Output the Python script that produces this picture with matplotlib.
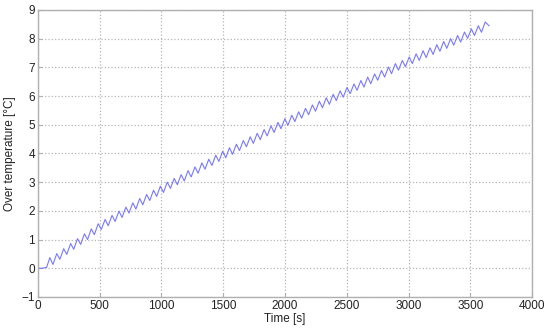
import matplotlib
matplotlib.use("Agg")
import matplotlib.pyplot as plt

plt.rcParams["font.family"] = ["Liberation Sans", "DejaVu Sans"]

# Heating test: start-up, then alternating peak / trough readings of the over temperature
start_time = [0, 40, 72]
start_temp = [0.0, 0.0, 0.03]

peak_time = [98, 154, 210, 266, 322, 378, 433, 489, 545, 601,
             657, 713, 769, 825, 881, 937, 992, 1048, 1104, 1160,
             1216, 1272, 1328, 1384, 1440, 1496, 1551, 1607, 1663, 1719,
             1775, 1831, 1887, 1943, 1999, 2055, 2110, 2166, 2222, 2278,
             2334, 2390, 2446, 2502, 2558, 2614, 2669, 2725, 2781, 2837,
             2893, 2949, 3005, 3061, 3117, 3173, 3228, 3284, 3340, 3396,
             3452, 3508, 3564, 3620]
peak_temp = [0.37, 0.51, 0.68, 0.86, 1.03, 1.20, 1.37, 1.55, 1.70, 1.84,
             1.99, 2.13, 2.28, 2.43, 2.57, 2.72, 2.86, 3.00, 3.13, 3.26,
             3.40, 3.53, 3.67, 3.80, 3.94, 4.07, 4.20, 4.32, 4.45, 4.58,
             4.70, 4.83, 4.96, 5.08, 5.21, 5.33, 5.45, 5.57, 5.69, 5.82,
             5.94, 6.06, 6.18, 6.30, 6.42, 6.54, 6.66, 6.77, 6.89, 7.01,
             7.13, 7.24, 7.36, 7.47, 7.58, 7.68, 7.79, 7.90, 8.00, 8.11,
             8.23, 8.34, 8.45, 8.58]

trough_time = [123, 179, 235, 291, 347, 403, 458, 514, 570, 626,
               682, 738, 794, 850, 906, 962, 1017, 1073, 1129, 1185,
               1241, 1297, 1353, 1409, 1465, 1521, 1576, 1632, 1688, 1744,
               1800, 1856, 1912, 1968, 2024, 2080, 2135, 2191, 2247, 2303,
               2359, 2415, 2471, 2527, 2583, 2639, 2694, 2750, 2806, 2862,
               2918, 2974, 3030, 3086, 3142, 3198, 3253, 3309, 3365, 3421,
               3477, 3533, 3589, 3650]
trough_temp = [0.13, 0.31, 0.48, 0.66, 0.83, 1.00, 1.17, 1.35, 1.48, 1.63,
               1.77, 1.92, 2.06, 2.21, 2.36, 2.50, 2.64, 2.78, 2.91, 3.04,
               3.18, 3.31, 3.45, 3.58, 3.72, 3.85, 3.97, 4.10, 4.23, 4.35,
               4.48, 4.61, 4.73, 4.86, 4.98, 5.11, 5.23, 5.35, 5.47, 5.59,
               5.71, 5.84, 5.96, 6.08, 6.20, 6.31, 6.43, 6.55, 6.66, 6.78,
               6.90, 7.02, 7.13, 7.24, 7.34, 7.45, 7.56, 7.66, 7.77, 7.88,
               8.01, 8.11, 8.22, 8.45]

x_ticks = [0, 500, 1000, 1500, 2000, 2500, 3000, 3500, 4000]
y_ticks = [-1, 0, 1, 2, 3, 4, 5, 6, 7, 8, 9]


def build_series():
    t = list(start_time)
    v = list(start_temp)
    for tp, vp, tt, vt in zip(peak_time, peak_temp, trough_time, trough_temp, strict=True):
        t += [tp, tt]
        v += [vp, vt]
    return t, v


def main():
    t, v = build_series()

    fig = plt.figure(figsize=(5.47, 3.31), dpi=100)
    ax = fig.add_axes([0.069, 0.103, 0.904, 0.867])

    ax.plot(t, v, color="#7878ff", lw=0.8)

    ax.set_xlim(0, 4000)
    ax.set_ylim(-1, 9)
    ax.set_xticks(x_ticks)
    ax.set_yticks(y_ticks)
    ax.grid(True, linestyle=":", color="#b5b5b5", lw=0.9)

    for spine in ax.spines.values():
        spine.set_color("#b0b0b0")
        spine.set_linewidth(1.0)
    ax.tick_params(direction="in", length=3, color="#b0b0b0",
                   labelsize=8.5, labelcolor="#222222", pad=2)

    ax.set_xlabel("Time [s]", fontsize=8.5, color="#222222", labelpad=1)
    ax.set_ylabel("Over temperature [°C]", fontsize=8.5, color="#222222", labelpad=4)

    fig.savefig("out.png", dpi=100)
    plt.close(fig)


if __name__ == "__main__":
    main()
